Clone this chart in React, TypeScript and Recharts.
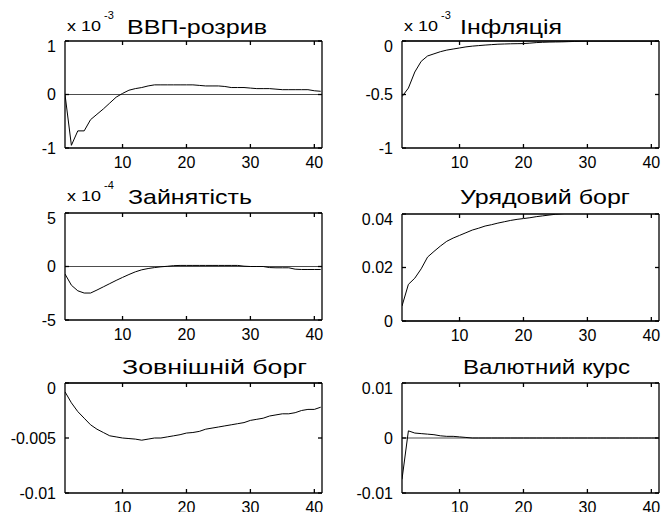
import React from "react";
import { LineChart, Line, XAxis, YAxis, ReferenceLine } from "recharts";

const periods = [1, 2, 3, 4, 5, 6, 7, 8, 9, 10, 11, 12, 13, 14, 15, 16, 17, 18, 19, 20, 21, 22, 23, 24, 25, 26, 27, 28, 29, 30, 31, 32, 33, 34, 35, 36, 37, 38, 39, 40, 41];

// x 10^-3
const gdpGap = [0, -0.95, -0.68, -0.68, -0.47, -0.37, -0.27, -0.16, -0.05, 0.02, 0.08, 0.11, 0.13, 0.16, 0.18, 0.18, 0.18, 0.18, 0.18, 0.18, 0.18, 0.17, 0.16, 0.16, 0.16, 0.15, 0.13, 0.13, 0.13, 0.12, 0.11, 0.11, 0.11, 0.1, 0.09, 0.09, 0.09, 0.09, 0.09, 0.07, 0.06];
// x 10^-3
const inflation = [-0.52, -0.44, -0.29, -0.19, -0.14, -0.12, -0.1, -0.085, -0.075, -0.065, -0.055, -0.048, -0.043, -0.038, -0.034, -0.03, -0.028, -0.026, -0.025, -0.024, -0.02, -0.015, -0.012, -0.01, -0.009, -0.008, -0.006, -0.004, -0.002, 0, 0, 0, 0, 0, 0, 0, 0, 0, 0, 0, 0];
// x 10^-4
const employment = [-0.7, -1.75, -2.27, -2.48, -2.48, -2.2, -1.9, -1.6, -1.3, -1.02, -0.75, -0.5, -0.31, -0.19, -0.1, -0.03, 0.02, 0.08, 0.1, 0.1, 0.1, 0.1, 0.1, 0.1, 0.1, 0.1, 0.1, 0.1, 0.03, 0, 0, 0, -0.1, -0.12, -0.12, -0.12, -0.25, -0.28, -0.28, -0.28, -0.28];
const govDebt = [0.0056, 0.0137, 0.016, 0.0195, 0.0239, 0.026, 0.028, 0.0298, 0.031, 0.032, 0.033, 0.034, 0.0347, 0.0355, 0.036, 0.0366, 0.0371, 0.0376, 0.038, 0.0383, 0.0386, 0.039, 0.0393, 0.0396, 0.0399, 0.0401, 0.0403, 0.0405, 0.0407, 0.0409, 0.041, 0.0412, 0.0413, 0.0414, 0.0415, 0.0416, 0.0417, 0.0418, 0.0418, 0.0419, 0.042];
const extDebt = [-0.0008, -0.0018, -0.0026, -0.0032, -0.0038, -0.0042, -0.0045, -0.0048, -0.0049, -0.005, -0.00505, -0.0051, -0.0052, -0.0051, -0.005, -0.005, -0.0049, -0.0048, -0.0047, -0.00455, -0.0045, -0.0044, -0.0042, -0.0041, -0.004, -0.0039, -0.0038, -0.0037, -0.0036, -0.0034, -0.0033, -0.0032, -0.003, -0.0029, -0.0028, -0.0028, -0.0027, -0.0025, -0.0024, -0.0024, -0.0022];
const exchRate = [-0.0075, 0.0013, 0.0009, 0.0008, 0.0007, 0.0006, 0.0004, 0.0003, 0.0003, 0.0002, 0.0001, 0, 0, 0, 0, 0, 0, 0, 0, 0, 0, 0, 0, 0, 0, 0, 0, 0, 0, 0, 0, 0, 0, 0, 0, 0, 0, 0, 0, 0, 0];

const xTicks = [10, 20, 30, 40];

const titles = ["ВВП-розрив", "Інфляція", "Зайнятість", "Урядовий борг", "Зовнішній борг", "Валютний курс"];
const exponents = ["-3", "-3", "-4", "", "", ""];
const yDomains = [[-1, 1], [-1, 0], [-5, 5], [0, 0.04], [-0.01, 0], [-0.01, 0.01]];
const yTicks = [[-1, 0, 1], [-1, -0.5, 0], [-5, 0, 5], [0, 0.02, 0.04], [-0.01, -0.005, 0], [-0.01, 0, 0.01]];
const seriesList = [gdpGap, inflation, employment, govDebt, extDebt, exchRate];

// plot boxes: left, top, width, height
const boxes = [
  [65, 41, 257, 107],
  [402, 41, 257, 107],
  [65, 213, 257, 107],
  [402, 214, 257, 107],
  [65, 383, 257, 110],
  [402, 383, 257, 110],
];
// title left, width, baseline
const titlePos = [
  [127, 140, 34],
  [460, 102, 34],
  [128, 124, 204],
  [460, 170, 204],
  [122, 185, 374],
  [463, 167, 374],
];

const font = "'Liberation Sans', Arial, sans-serif";
const axisStyle = { stroke: "#000", strokeWidth: 1.3 };

function Panel({ idx }: { idx: number }) {
  const [pl, pt, pw, ph] = boxes[idx];
  const values = seriesList[idx];
  const data = periods.map((t, i) => ({ t, v: values[i] }));
  const domain = yDomains[idx];
  return (
    <div style={{ position: "absolute", left: pl - 60, top: pt - 4 }}>
      <LineChart width={pw + 65} height={ph + 34} data={data} margin={{ top: 3, right: 4, bottom: 0, left: 0 }}>
        <XAxis xAxisId="b" dataKey="t" type="number" domain={[1, 41.2]} ticks={xTicks} allowDataOverflow
          height={30} tickSize={-4} tickMargin={13} axisLine={axisStyle} tickLine={axisStyle}
          tick={{ fill: "#000", fontSize: 16, fontFamily: font }} />
        <XAxis xAxisId="t" orientation="top" dataKey="t" type="number" domain={[1, 41.2]} ticks={xTicks} allowDataOverflow
          height={1} tickSize={-4} axisLine={axisStyle} tickLine={axisStyle} tickFormatter={() => ""} />
        <YAxis yAxisId="l" type="number" domain={domain} ticks={yTicks[idx]} allowDataOverflow
          width={60} tickSize={-4} tickMargin={13} axisLine={axisStyle} tickLine={axisStyle}
          tickFormatter={(v: number) => String(v)}
          tick={{ fill: "#000", fontSize: 16, fontFamily: font }} />
        <YAxis yAxisId="r" orientation="right" type="number" domain={domain} ticks={yTicks[idx]} allowDataOverflow
          width={1} tickSize={-4} axisLine={axisStyle} tickLine={axisStyle} tickFormatter={() => ""} />
        <ReferenceLine xAxisId="b" yAxisId="l" y={0} stroke="#000" strokeWidth={0.7} />
        <Line xAxisId="t" yAxisId="r" dataKey="v" stroke="none" dot={false} isAnimationActive={false} />
        <Line xAxisId="b" yAxisId="l" dataKey="v" type="linear" stroke="#000" strokeWidth={1} dot={false} isAnimationActive={false} />
      </LineChart>
    </div>
  );
}

export default function App() {
  return (
    <div style={{ position: "absolute", left: 0, top: 0, width: 669, height: 512, overflow: "hidden", background: "#fff" }}>
      {titles.map((_, i) => <Panel key={i} idx={i} />)}
      <svg width={669} height={512} style={{ position: "absolute", left: 0, top: 0, pointerEvents: "none" }}>
        {titles.map((title, i) => {
          const [tx, tw, ty] = titlePos[i];
          return (
            <text key={i} x={tx} y={ty} fontSize={21} fontFamily={font} fill="#000" textLength={tw} lengthAdjust="spacingAndGlyphs">
              {title}
            </text>
          );
        })}
        {exponents.map((e, i) => {
          if (!e) return null;
          const [pl] = boxes[i];
          const ty = titlePos[i][2];
          return (
            <g key={i}>
              <text x={pl + 2} y={ty - 3} fontSize={14} fontFamily={font} fill="#000" textLength={34} lengthAdjust="spacingAndGlyphs">x 10</text>
              <text x={pl + 39} y={ty - 15} fontSize={11} fontFamily={font} fill="#000">{e}</text>
            </g>
          );
        })}
      </svg>
    </div>
  );
}
